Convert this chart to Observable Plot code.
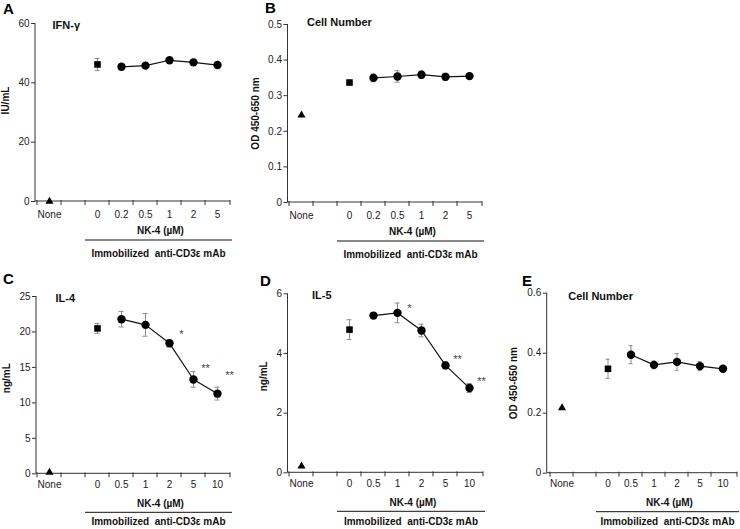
<!DOCTYPE html>
<html><head><meta charset="utf-8">
<script src="https://cdn.jsdelivr.net/npm/d3@7"></script>
<script src="https://cdn.jsdelivr.net/npm/@observablehq/plot@0.6"></script>
<style>
body{margin:0;background:#fff;}
#fig{position:relative;width:740px;height:529px;overflow:hidden;font-family:"Liberation Sans",Arial,Helvetica,sans-serif;background:#fff;}
.panel{position:absolute;}
.letter{position:absolute;font-weight:bold;font-size:15px;line-height:1;color:#000;}
</style></head><body><div id="fig"></div>
<script>
// ---------------- data ----------------
const catsAB = ["None", " ", "0", "0.2", "0.5", "1", "2", "5"];
const catsCDE = ["None", " ", "0", "0.5", "1", "2", "5", "10"];
const doseAB = ["0.2", "0.5", "1", "2", "5"];
const doseCDE = ["0.5", "1", "2", "5", "10"];

// A: IFN-γ (IU/mL)
const ifnNone = 0;
const ifnCtrl = 46.2, ifnCtrlErr = 2.0;
const ifnMean = [45.4, 45.8, 47.6, 46.9, 46.0];
const ifnErr = [1.0, 0.5, 0.5, 0.5, 0.5];

// B: Cell number (OD 450-650 nm)
const cellBNone = 0.245;
const cellBCtrl = 0.337, cellBCtrlErr = 0.006;
const cellBMean = [0.350, 0.354, 0.359, 0.353, 0.355];
const cellBErr = [0.011, 0.016, 0.010, 0.010, 0.006];

// C: IL-4 (ng/mL)
const il4None = 0.2;
const il4Ctrl = 20.5, il4CtrlErr = 0.7;
const il4Mean = [21.8, 21.0, 18.4, 13.3, 11.3];
const il4Err = [1.1, 1.6, 0.5, 1.1, 0.9];
const il4StarDose = ["2", "5", "10"];
const il4StarLabel = ["*", "**", "**"];
const il4StarY = [19.9, 15.1, 14.1];

// D: IL-5 (ng/mL)
const il5None = 0.22;
const il5Ctrl = 4.80, il5CtrlErr = 0.33;
const il5Mean = [5.27, 5.36, 4.77, 3.60, 2.84];
const il5Err = [0.05, 0.33, 0.21, 0.12, 0.15];
const il5StarDose = ["1", "5", "10"];
const il5StarLabel = ["*", "**", "**"];
const il5StarY = [5.59, 3.88, 3.12];

// E: Cell number (OD 450-650 nm)
const cellENone = 0.218;
const cellECtrl = 0.348, cellECtrlErr = 0.032;
const cellEMean = [0.395, 0.361, 0.371, 0.357, 0.348];
const cellEErr = [0.030, 0.013, 0.028, 0.015, 0.005];

// tick values
const ticksA = [0, 20, 40, 60];
const ticksB = [0, 0.1, 0.2, 0.3, 0.4, 0.5];
const ticksC = [0, 5, 10, 15, 20, 25];
const ticksD = [0, 2, 4, 6];
const ticksE = [0, 0.2, 0.4, 0.6];

const nkLabel = "NK-4 (\u00b5M)";
const stimLabel = "Immobilized\u00a0 anti-CD3\u03b5 mAb";

// ---------------- drawing ----------------
const FONT = '"Liberation Sans", Arial, Helvetica, sans-serif';

function excelAxes(L) {
  return (index, scales, values, dim) => {
    const {width, height, marginLeft: ml, marginRight: mr, marginTop: mt, marginBottom: mb} = dim;
    const x0 = ml, x1 = width - mr, yb = height - mb;
    const g = d3.create("svg:g");
    const ax = g.append("g").attr("stroke", "#333").attr("fill", "none").attr("stroke-width", 1);
    ax.append("line").attr("x1", x0).attr("x2", x0).attr("y1", mt).attr("y2", yb);
    ax.append("line").attr("x1", x0).attr("x2", x1).attr("y1", yb).attr("y2", yb);
    const dom = scales.x.domain();
    const bounds = dom.map(d => scales.x(d)).concat([x1]);
    for (const b of bounds) ax.append("line").attr("x1", b).attr("x2", b).attr("y1", yb - 1).attr("y2", yb + 4);
    // bracket
    const bx0 = scales.x("0"), bx1 = x1 + 2, cx = (bx0 + bx1) / 2;
    ax.append("line").attr("x1", bx0).attr("x2", bx1).attr("y1", yb + L.bl).attr("y2", yb + L.bl).attr("stroke", "#111");
    g.append("text").attr("x", cx + 2).attr("y", yb + L.bn).attr("text-anchor", "middle").attr("dominant-baseline", "central")
      .attr("font-weight", "bold").attr("font-size", 10).attr("fill", "#111").text(nkLabel);
    g.append("text").attr("x", cx).attr("y", yb + L.bi).attr("text-anchor", "middle").attr("dominant-baseline", "central")
      .attr("font-weight", "bold").attr("font-size", 10).attr("fill", "#111").text(stimLabel);
    return g.node();
  };
}

function panel(cfg) {
  const L = cfg.layout;
  const noneRow = [{dose: "None", m: cfg.none, e: 0}];
  const ctrlRow = [{dose: "0", m: cfg.ctrl, e: cfg.ctrlErr}];
  const doseRows = cfg.dose.map((d, i) => ({dose: d, m: cfg.mean[i], e: cfg.err[i]}));
  const errRows = ctrlRow.concat(doseRows);
  const stars = cfg.starDose ? cfg.starDose.map((d, i) => ({dose: d, label: cfg.starLabel[i], y: cfg.starY[i]})) : [];
  const svg = Plot.plot({
    width: L.w, height: L.h,
    marginLeft: L.ml, marginRight: L.mr, marginTop: L.mt, marginBottom: L.mb,
    style: {fontFamily: FONT, fontSize: "10px", background: "transparent", color: "#222", overflow: "visible"},
    x: {type: "band", domain: cfg.cats, padding: 0, axis: null},
    y: {domain: cfg.yDomain, axis: null},
    marks: [
      excelAxes(L),
      Plot.axisY({ticks: cfg.yTicks, tickFormat: d3.format("~g"), tickSize: 4, tickPadding: 2, label: null, stroke: "#333", fill: "#222", fontSize: 10}),
      Plot.axisX({tickSize: 0, tickPadding: L.tp, label: null, fill: "#222", fontSize: 10}),
      Plot.ruleX(errRows, {x: "dose", y1: d => d.m - d.e, y2: d => d.m + d.e, stroke: "#8c8c8c", strokeWidth: 1}),
      Plot.tickY(errRows, {x: "dose", y: d => d.m + d.e, stroke: "#8c8c8c", insetLeft: 9.5, insetRight: 9.5}),
      Plot.tickY(errRows, {x: "dose", y: d => d.m - d.e, stroke: "#8c8c8c", insetLeft: 9.5, insetRight: 9.5}),
      Plot.line(doseRows, {x: "dose", y: "m", stroke: "#111", strokeWidth: 1.2}),
      Plot.dot(noneRow, {x: "dose", y: "m", symbol: "triangle", r: 3, fill: "#000", stroke: "none"}),
      Plot.dot(ctrlRow, {x: "dose", y: "m", symbol: "square", r: 3.7, fill: "#000", stroke: "none"}),
      Plot.dot(doseRows, {x: "dose", y: "m", symbol: "circle", r: 4.2, fill: "#000", stroke: "none"}),
      Plot.text(stars, {x: "dose", y: "y", text: "label", dx: 12, dy: 2, fontSize: 11, fill: "#444"}),
      Plot.text([cfg.title], {text: d => d, frameAnchor: "top-left", dx: L.tdx, dy: L.tdy, textAnchor: "start", lineAnchor: "middle", fontWeight: "bold", fontSize: 11, fill: "#111"}),
      Plot.text([cfg.yLabel], {text: d => d, frameAnchor: "left", rotate: -90, dx: -L.ldx, dy: L.ldy, fontWeight: "bold", fontSize: 10, textAnchor: "middle", lineAnchor: "middle", fill: "#111"})
    ]
  });
  svg.classList.add("panel");
  svg.style.left = L.x + "px";
  svg.style.top = L.y + "px";
  return svg;
}

const fig = document.getElementById("fig");
const panels = [
  {cats: catsAB, none: ifnNone, ctrl: ifnCtrl, ctrlErr: ifnCtrlErr, dose: doseAB, mean: ifnMean, err: ifnErr,
   yDomain: [0, 60], yTicks: ticksA, yLabel: "IU/mL", title: "IFN-\u03b3",
   layout: {x: 0, y: 0, w: 250, h: 262, ml: 35, mr: 20, mt: 23, mb: 61, tp: 9, bn: 29, bl: 39, bi: 52, tdx: 17, tdy: 2, ldx: 30, ldy: -12}},
  {cats: catsAB, none: cellBNone, ctrl: cellBCtrl, ctrlErr: cellBCtrlErr, dose: doseAB, mean: cellBMean, err: cellBErr,
   yDomain: [0, 0.5], yTicks: ticksB, yLabel: "OD 450-650 nm", title: "Cell Number",
   layout: {x: 250, y: 0, w: 250, h: 262, ml: 37.5, mr: 18, mt: 24, mb: 60, tp: 9, bn: 29, bl: 39, bi: 52, tdx: 19, tdy: -2, ldx: 32, ldy: 0}},
  {cats: catsCDE, none: il4None, ctrl: il4Ctrl, ctrlErr: il4CtrlErr, dose: doseCDE, mean: il4Mean, err: il4Err,
   starDose: il4StarDose, starLabel: il4StarLabel, starY: il4StarY,
   yDomain: [0, 25], yTicks: ticksC, yLabel: "ng/mL", title: "IL-4",
   layout: {x: 0, y: 262, w: 250, h: 267, ml: 36, mr: 20, mt: 34, mb: 55.7, tp: 7, bn: 30, bl: 39, bi: 48.5, tdx: 19, tdy: 2, ldx: 30, ldy: -7}},
  {cats: catsCDE, none: il5None, ctrl: il5Ctrl, ctrlErr: il5CtrlErr, dose: doseCDE, mean: il5Mean, err: il5Err,
   starDose: il5StarDose, starLabel: il5StarLabel, starY: il5StarY,
   yDomain: [0, 6], yTicks: ticksD, yLabel: "ng/mL", title: "IL-5",
   layout: {x: 250, y: 262, w: 250, h: 267, ml: 37.5, mr: 17, mt: 31.3, mb: 56.7, tp: 7, bn: 30, bl: 39, bi: 49, tdx: 24, tdy: 2, ldx: 24, ldy: -7}},
  {cats: catsCDE, none: cellENone, ctrl: cellECtrl, ctrlErr: cellECtrlErr, dose: doseCDE, mean: cellEMean, err: cellEErr,
   yDomain: [0, 0.6], yTicks: ticksE, yLabel: "OD 450-650 nm", title: "Cell Number",
   layout: {x: 490, y: 262, w: 250, h: 267, ml: 56.7, mr: 3, mt: 30.7, mb: 56.3, tp: 7, bn: 30, bl: 39, bi: 49, tdx: 21, tdy: 3, ldx: 33, ldy: 0}}
];
for (const p of panels) fig.appendChild(panel(p));

const letters = [["A", 3, 1], ["B", 265, 0], ["C", 3, 271], ["D", 260, 273], ["E", 522, 273]];
for (const [t, x, y] of letters) {
  const d = document.createElement("div");
  d.className = "letter"; d.textContent = t;
  d.style.left = x + "px"; d.style.top = y + "px";
  fig.appendChild(d);
}
</script></body></html>
